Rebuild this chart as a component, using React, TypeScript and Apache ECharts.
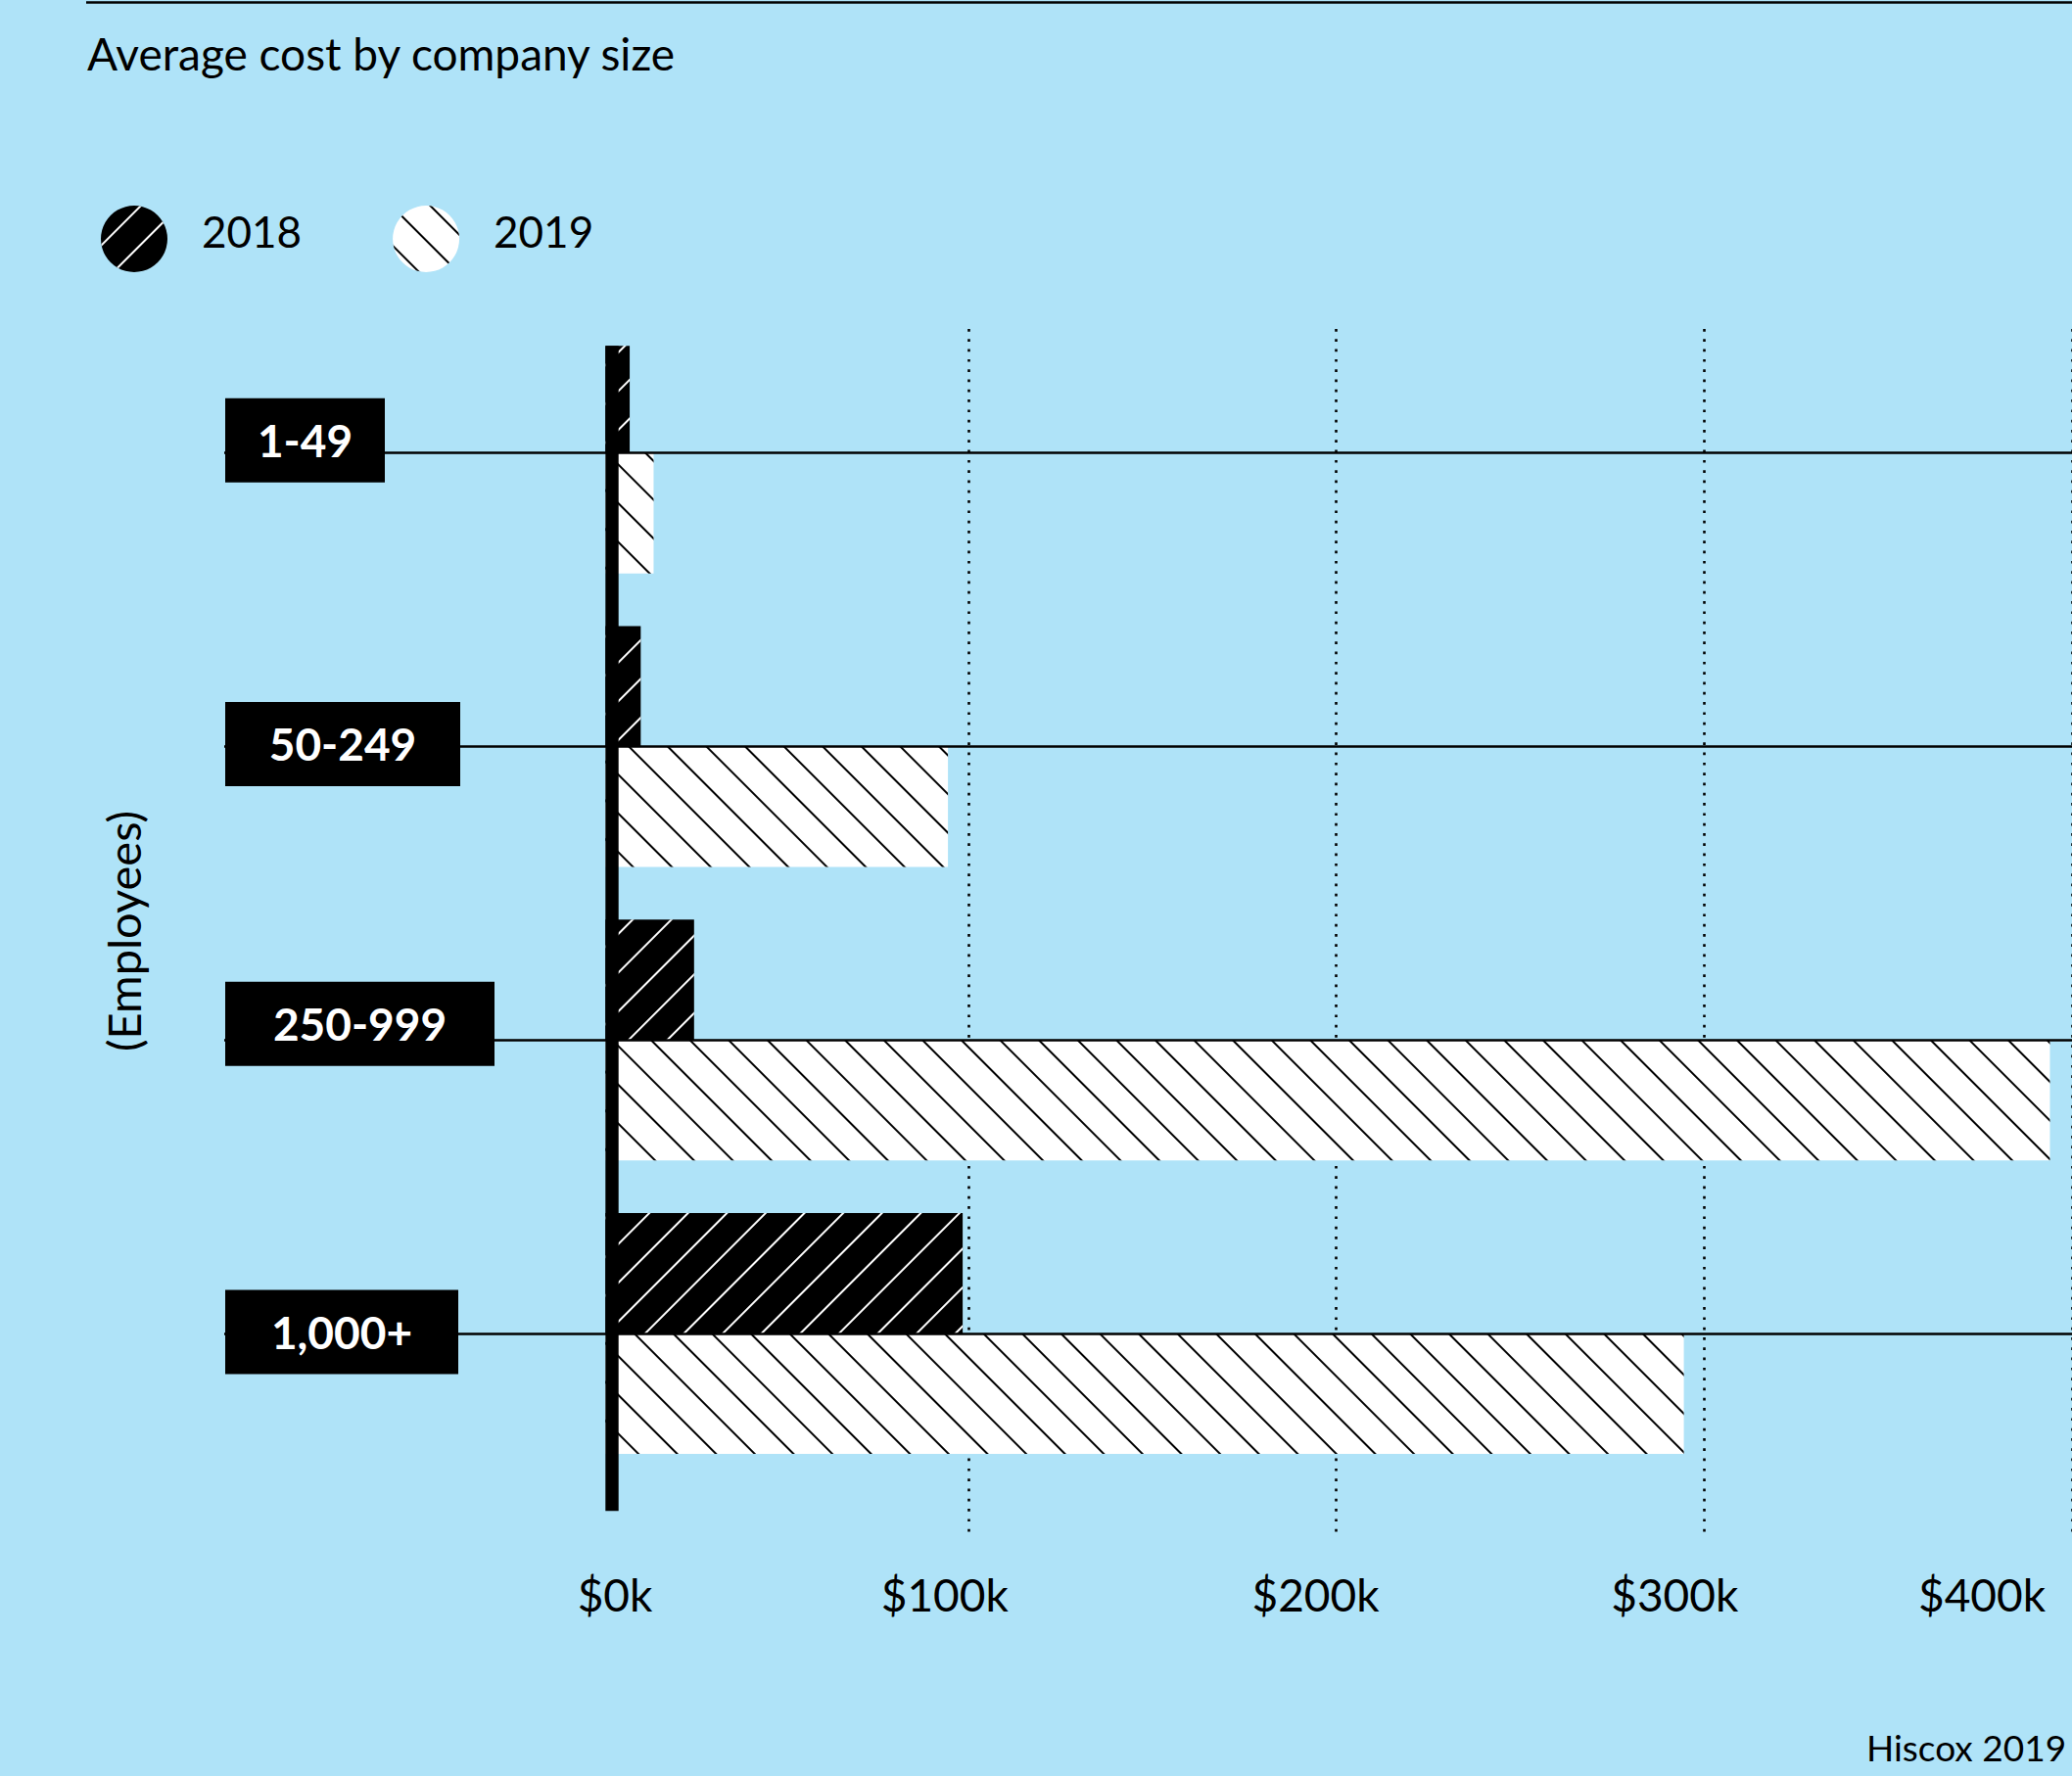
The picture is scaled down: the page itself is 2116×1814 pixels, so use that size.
import React, { useEffect, useRef } from "react";
import * as echarts from "echarts";

const categories = ["1-49", "50-249", "250-999", "1,000+"];
const seriesNames = ["2018", "2019"];
const values2018 = [8, 11, 25.5, 98.5];
const values2019 = [14.5, 94.5, 394, 294.5];
const xTicks = [0, 100, 200, 300, 400];
const titleText = "Average cost by company size";
const axisName = "(Employees)";
const sourceText = "Hiscox 2019";

const BG = "#AFE3F8";
const FONT = "Lato";

// label box widths and vertical lift (style only)
const boxWidths = [163, 240, 275, 238];
const boxLift = [26, 5, 33, 3];
// x label horizontal paddings [left, right] (style only)
const xLabelPad: Record<number, number[]> = {
  0: [30, 0],
  100: [0, 48],
  200: [0, 42],
  300: [0, 60],
  400: [0, 184],
};

export default function App() {
  const ref = useRef<HTMLDivElement>(null);
  useEffect(() => {
    if (!ref.current) return;
    const chart = echarts.init(ref.current, null, { renderer: "svg" });

    const yRich: Record<string, any> = {};
    boxWidths.forEach((w, i) => {
      yRich["b" + i] = {
        width: w,
        height: 86,
        lineHeight: 86,
        backgroundColor: "#000",
        color: "#fff",
        fontSize: 46,
        fontFamily: FONT,
        fontWeight: "bold",
        align: "center",
      };
      yRich["s" + i] = {
        height: boxLift[i],
        lineHeight: boxLift[i],
        fontSize: 1,
        color: "rgba(0,0,0,0)",
      };
    });
    const xRich: Record<string, any> = {};
    xTicks.forEach((t) => {
      const p = xLabelPad[t];
      xRich["x" + t] = {
        fontSize: 46,
        fontFamily: FONT,
        color: "#000",
        padding: [0, p[1], 0, p[0]],
      };
    });

    const gridLeft = 613;
    const gridWidth = 1516;

    const option: any = {
      animation: false,
      backgroundColor: BG,
      title: {
        text: titleText,
        left: 89,
        top: 31,
        padding: 0,
        textStyle: { fontSize: 46, fontWeight: "normal", fontFamily: FONT, color: "#000" },
      },
      legend: {
        data: seriesNames,
        left: 103,
        top: 210,
        icon: "circle",
        itemWidth: 68,
        itemHeight: 68,
        itemGap: 93,
        selectedMode: false,
        padding: 0,
        formatter: (name: string) => `{n|${name}}\n{s| }`,
        textStyle: {
          fontSize: 44,
          fontFamily: FONT,
          color: "#000",
          padding: [0, 0, 0, 30],
          rich: {
            n: { fontSize: 44, fontFamily: FONT, color: "#000", lineHeight: 50 },
            s: { fontSize: 1, height: 16, lineHeight: 16, color: "rgba(0,0,0,0)" },
          },
        },
      },
      grid: [
        { left: gridLeft, top: 312.8, width: gridWidth, height: 1199, containLabel: false },
        { left: gridLeft, top: 336, width: gridWidth, height: 1230, containLabel: false },
      ],
      xAxis: [
        {
          type: "value",
          gridIndex: 0,
          min: 0,
          max: 400,
          interval: 100,
          axisLine: { show: false },
          axisTick: { show: false },
          splitLine: { show: false },
          axisLabel: {
            margin: 94,
            showMinLabel: true,
            showMaxLabel: true,
            formatter: (v: number) => `{x${v}|$${v}k}`,
            rich: xRich,
          },
        },
        {
          type: "value",
          gridIndex: 1,
          min: 0,
          max: 400,
          interval: 100,
          axisLine: { show: false },
          axisTick: { show: false },
          axisLabel: { show: false },
          splitLine: {
            show: true,
            showMinLine: false,
            lineStyle: { color: "#000", width: 2.6, type: [2.7, 7.6] },
          },
        },
      ],
      yAxis: [
        {
          type: "category",
          gridIndex: 0,
          data: categories,
          inverse: true,
          position: "left",
          z: 4,
          axisLine: { show: false },
          axisTick: {
            show: true,
            alignWithLabel: true,
            length: 384,
            lineStyle: { color: "#000", width: 2.5 },
          },
          axisLabel: {
            margin: 383,
            align: "left",
            formatter: (v: string, i: number) => `{b${i}|${v}}\n{s${i}| }`,
            rich: yRich,
          },
          splitLine: { show: false },
        },
        {
          type: "category",
          gridIndex: 0,
          data: categories,
          inverse: true,
          position: "left",
          offset: 0,
          z: 4,
          axisLine: { show: false },
          axisLabel: { show: false },
          axisTick: {
            show: true,
            inside: true,
            alignWithLabel: true,
            length: 1520,
            lineStyle: { color: "#000", width: 2.5 },
          },
          splitLine: { show: false },
        },
        {
          type: "value",
          gridIndex: 1,
          min: 0,
          max: 1,
          axisLine: { show: false },
          axisTick: { show: false },
          axisLabel: { show: false },
          splitLine: { show: false },
          name: axisName,
          nameLocation: "middle",
          nameGap: 464,
          nameRotate: 90,
          nameTextStyle: { fontSize: 47, fontFamily: FONT, color: "#000" },
        },
      ],
      series: [
        {
          name: seriesNames[0],
          type: "bar",
          xAxisIndex: 0,
          yAxisIndex: 0,
          data: values2018,
          barWidth: 123,
          barGap: "0%",
          itemStyle: {
            color: "#000",
            decal: {
              symbol: "rect",
              symbolSize: 1,
              color: "#fff",
              dashArrayX: [1, 0],
              dashArrayY: [1.8, 25.8],
              rotation: -Math.PI / 4,
            },
          },
        },
        {
          name: seriesNames[1],
          type: "bar",
          xAxisIndex: 0,
          yAxisIndex: 0,
          data: values2019,
          barWidth: 123,
          barGap: "0%",
          itemStyle: {
            color: "#fff",
            decal: {
              symbol: "rect",
              symbolSize: 1,
              color: "#000",
              dashArrayX: [1, 0],
              dashArrayY: [2, 25.6],
              rotation: Math.PI / 4,
            },
          },
        },
      ],
      graphic: [
        {
          type: "line",
          z: 10,
          shape: { x1: 88, y1: 2.5, x2: 2116, y2: 2.5 },
          style: { stroke: "#000", lineWidth: 2.5 },
        },
        // mask: bars are hidden left of the axis line and above its top
        {
          type: "rect",
          z: 3,
          shape: { x: 606, y: 312, width: 12.3, height: 1202 },
          style: { fill: BG },
        },
        {
          type: "rect",
          z: 3,
          shape: { x: 606, y: 300, width: 370, height: 53.3 },
          style: { fill: BG },
        },
        {
          type: "rect",
          z: 10,
          shape: { x: 618.3, y: 353.3, width: 13.4, height: 1190 },
          style: { fill: "#000" },
        },
        {
          type: "text",
          z: 10,
          style: {
            text: sourceText,
            x: 1906,
            y: 1784,
            fontSize: 37,
            fontFamily: FONT,
            fill: "#000",
            textAlign: "left",
            textVerticalAlign: "middle",
          },
        },
      ],
    };
    chart.setOption(option);
    return () => chart.dispose();
  }, []);
  return (
    <div
      ref={ref}
      style={{ position: "fixed", left: 0, top: 0, width: 2116, height: 1814 }}
    />
  );
}
